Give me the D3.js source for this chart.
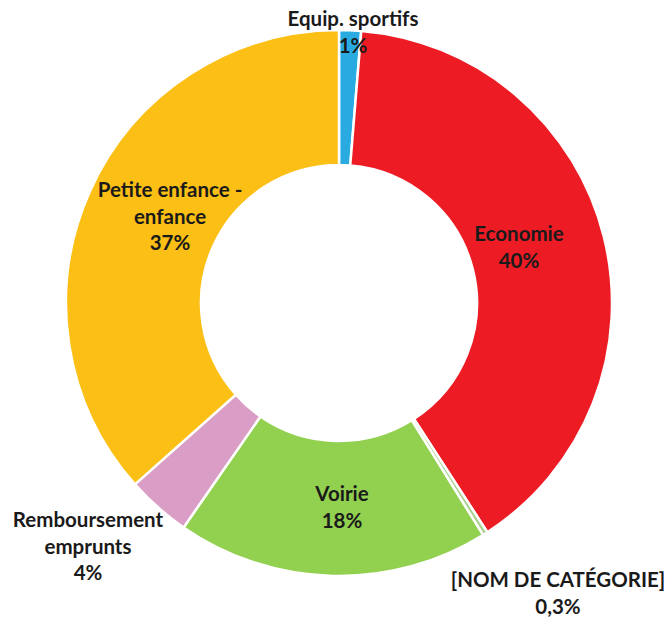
<!DOCTYPE html>
<html>
<head>
<meta charset="utf-8">
<script src="https://cdn.jsdelivr.net/npm/d3@7"></script>
<style>
  body { margin: 0; background: #fff; }
  text { font-family: Lato, "Open Sans", sans-serif; font-weight: bold; fill: #1a1a1a; }
</style>
</head>
<body>
<script>
const categories = ["Equip. sportifs", "Economie", "[NOM DE CATÉGORIE]", "Voirie", "Remboursement emprunts", "Petite enfance - enfance"];
const values = [1.3, 39.6, 0.3, 18.5, 3.8, 36.6];
const labels = ["1%", "40%", "0,3%", "18%", "4%", "37%"];
const colors = ["#29abe2", "#ed1c24", "#a9d08e", "#92d050", "#da9ec6", "#fbbf15"];

// label lines and where each label block sits (relative to centre)
const labelLines = [
  ["Equip. sportifs"],
  ["Economie"],
  ["[NOM DE CATÉGORIE]"],
  ["Voirie"],
  ["Remboursement", "emprunts"],
  ["Petite enfance -", "enfance"]
];
const labelPos = [[14, -277], [180, -62], [219, 284], [3, 198], [-251, 224], [-169, -106]];

const width = 665, height = 618;
const cx = 339, cy = 303, outerR = 273, innerR = 138;

const svg = d3.select("body").append("svg")
  .attr("width", width)
  .attr("height", height);

const g = svg.append("g").attr("transform", `translate(${cx},${cy})`);

const pie = d3.pie().sort(null).value(d => d)(values);
const arc = d3.arc().innerRadius(innerR).outerRadius(outerR);

g.selectAll("path")
  .data(pie)
  .enter()
  .append("path")
  .attr("d", arc)
  .attr("fill", (d, i) => colors[i])
  .attr("stroke", "#fff")
  .attr("stroke-width", 2.5);

const lh = 26.5;
labelLines.forEach((lines, i) => {
  const all = lines.concat([labels[i]]);
  const t = g.append("text")
    .attr("text-anchor", "middle")
    .style("font-size", "20.5px");
  all.forEach((s, j) => {
    t.append("tspan")
      .attr("x", labelPos[i][0])
      .attr("y", labelPos[i][1] + j * lh)
      .text(s);
  });
});
</script>
</body>
</html>
